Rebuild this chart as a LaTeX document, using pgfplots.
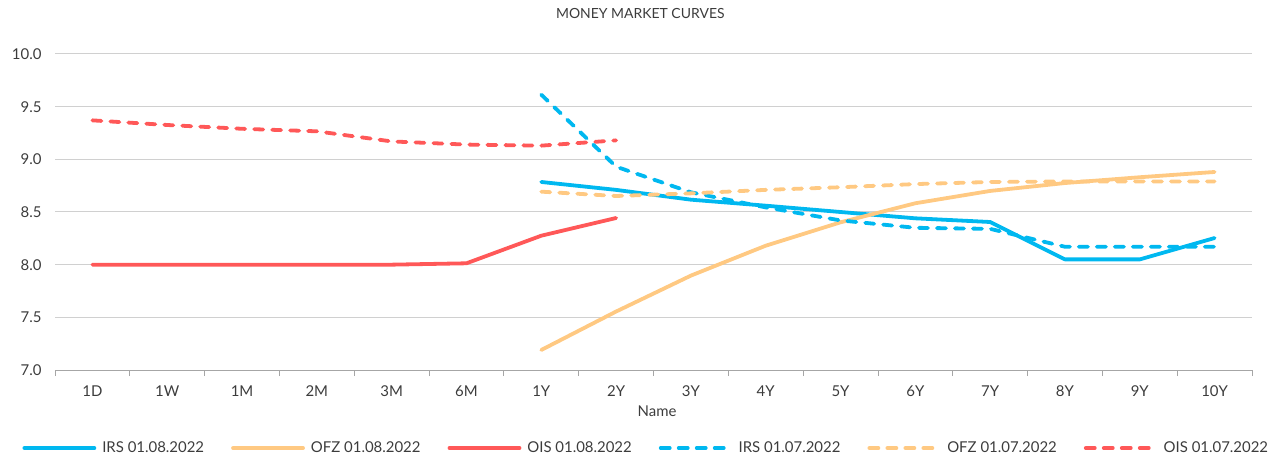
\documentclass[border=0pt]{standalone}
\usepackage{pgfplots}
\pgfplotsset{compat=1.18}
\usepackage{fontspec}
\setmainfont{Lato}
\definecolor{irs}{RGB}{0,184,240}
\definecolor{ofz}{RGB}{255,201,130}
\definecolor{ois}{RGB}{255,88,88}
\definecolor{txt}{RGB}{60,60,60}
\definecolor{gridc}{RGB}{208,208,208}
\begin{document}
\begin{tikzpicture}
\path[use as bounding box] (-55bp,-89bp) rectangle (1222bp,370bp);
\begin{axis}[
  scale only axis,
  width=1197bp, height=316bp,
  xmin=-0.5, xmax=15.5,
  ymin=7, ymax=10,
  ytick={7,7.5,...,10},
  xtick={0,...,15},
  xticklabels={1D,1W,1M,2M,3M,6M,1Y,2Y,3Y,4Y,5Y,6Y,7Y,8Y,9Y,10Y},
  minor xtick={-0.5,0.5,...,15.5},
  tick align=outside,
  minor tick length=6bp,
  major tick length=0bp,
  minor x tick style={draw=gridc!80!black, line width=0.8bp},
  major x tick style={draw=none},
  ytick style={draw=none},
  axis x line*=bottom,
  axis y line*=left,
  y axis line style={draw=none},
  x axis line style={-, draw=gridc!80!black, line width=0.8bp},
  ymajorgrids,
  grid style={gridc, line width=1bp},
  font=\fontsize{15}{18}\selectfont\color{txt},
  /pgf/number format/assume math mode=true,
  yticklabel style={/pgf/number format/fixed, /pgf/number format/fixed zerofill, /pgf/number format/precision=1, anchor=east, xshift=-10bp},
  yticklabel={\pgfmathprintnumber{\tick}},
  xticklabel style={yshift=-12bp},
  xlabel={Name},
  xlabel style={at={(axis description cs:0.503,-0.13)}, anchor=center},
  title={\fontsize{14}{16}\selectfont MONEY MARKET CURVES},
  title style={at={(axis description cs:0.489,1.108)}, anchor=center},
  legend columns=6,
  legend style={at={(axis description cs:0.494,-0.247)}, anchor=center, draw=none, fill=none,
    font=\fontsize{15}{18}\selectfont\color{txt},
    /tikz/every even column/.append style={column sep=25bp}},
  legend image code/.code={\draw[#1] (0bp,0bp) -- (70bp,0bp); \path (74bp,0bp);},
  every axis plot/.append style={line width=3.8bp, line cap=round, line join=round},
  clip=false,
]
% IRS 01.08.2022
\addplot[irs] coordinates {(6,8.785) (7,8.71) (8,8.617) (9,8.56) (10,8.50) (11,8.44) (12,8.405) (13,8.05) (14,8.05) (15,8.253)};
\addlegendentry{IRS 01.08.2022}
% OFZ 01.08.2022
\addplot[ofz] coordinates {(6,7.19) (7,7.555) (8,7.896) (9,8.18) (10,8.402) (11,8.583) (12,8.70) (13,8.775) (14,8.83) (15,8.88)};
\addlegendentry{OFZ 01.08.2022}
% OIS 01.08.2022
\addplot[ois] coordinates {(0,8.0) (1,8.0) (2,8.0) (3,8.0) (4,8.0) (5,8.013) (6,8.275) (7,8.443)};
\addlegendentry{OIS 01.08.2022}
% IRS 01.07.2022
\addplot[irs, dash pattern=on 9bp off 9bp] coordinates {(6,9.614) (7,8.93) (8,8.687) (9,8.544) (10,8.42) (11,8.35) (12,8.34) (13,8.17) (14,8.17) (15,8.17)};
\addlegendentry{IRS 01.07.2022}
% OFZ 01.07.2022
\addplot[ofz, dash pattern=on 9bp off 9bp] coordinates {(6,8.693) (7,8.652) (8,8.677) (9,8.71) (10,8.735) (11,8.765) (12,8.785) (13,8.79) (14,8.79) (15,8.79)};
\addlegendentry{OFZ 01.07.2022}
% OIS 01.07.2022
\addplot[ois, dash pattern=on 9bp off 9bp] coordinates {(0,9.37) (1,9.326) (2,9.29) (3,9.266) (4,9.17) (5,9.14) (6,9.13) (7,9.18)};
\addlegendentry{OIS 01.07.2022}
\end{axis}
\end{tikzpicture}
\end{document}
